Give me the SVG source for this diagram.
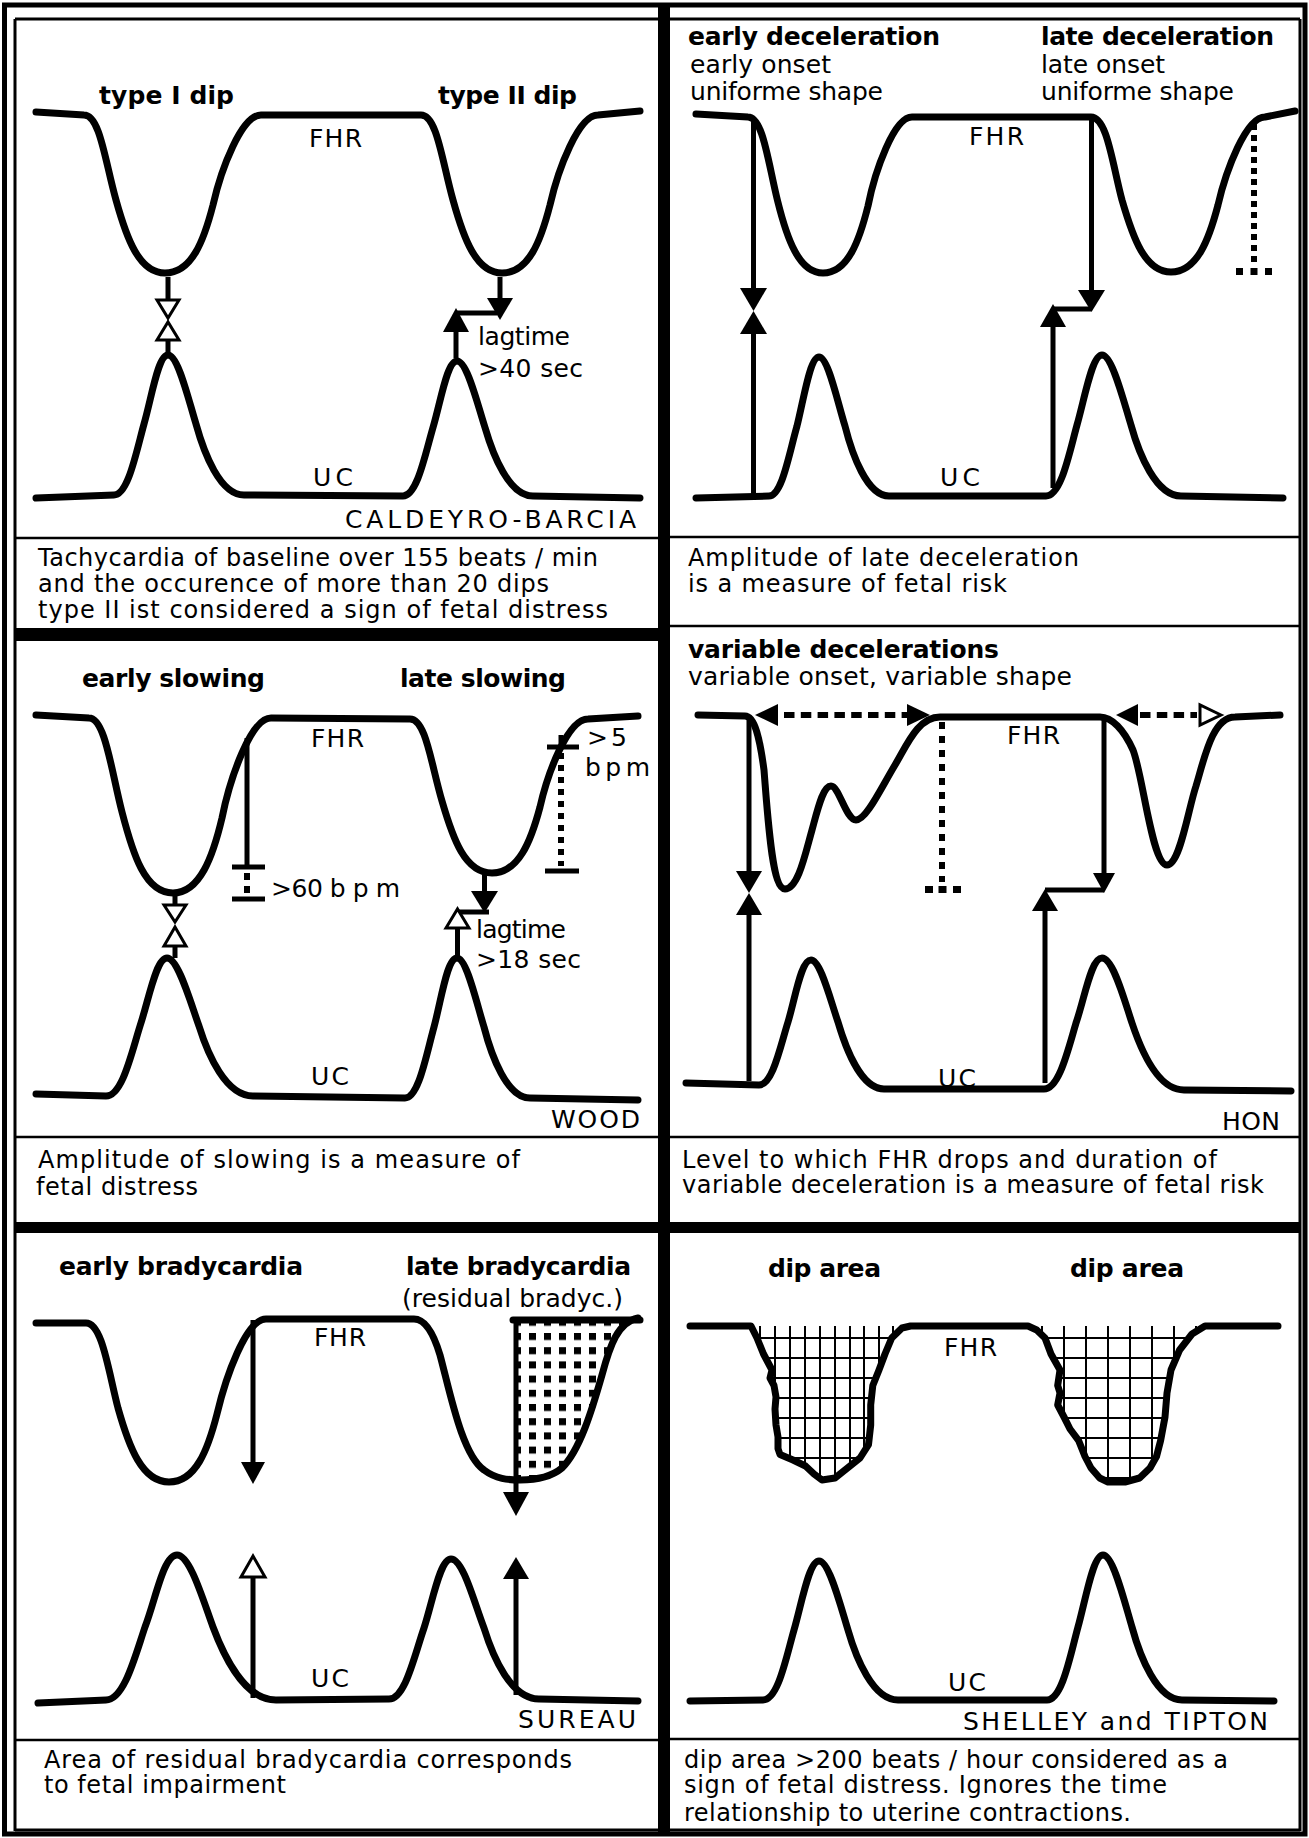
<svg xmlns="http://www.w3.org/2000/svg" width="1309" height="1838" viewBox="0 0 1309 1838">
<style>
text{font-family:"DejaVu Sans","Liberation Sans",sans-serif;fill:#000}
.b{font-weight:bold;font-size:25px}
.s{font-size:25px}
.c{font-size:24px}
.l{font-size:25px}
.a{font-size:25px}
.curve{fill:none;stroke:#000;stroke-width:7;stroke-linecap:round;stroke-linejoin:round}
.ln{fill:none;stroke:#000;stroke-width:5}
.thin{fill:none;stroke:#000;stroke-width:2.5}
.frame{fill:none;stroke:#000;stroke-width:3}
.dot{fill:none;stroke:#000;stroke-width:6}
.so{fill:#000}
.op{fill:#fff;stroke:#000;stroke-width:3}
.grid{stroke:#000;stroke-width:2}
</style>
<defs>
<pattern id="dots" x="529" y="1333" width="15" height="14.2" patternUnits="userSpaceOnUse"><rect width="7" height="7" fill="#000"/></pattern>
<clipPath id="clipL"><polygon points="751,1326 757,1338 763.5,1354 772,1370 770,1378 774,1385.5 776,1397 775,1409 776,1425 778,1437 778,1448.6 780,1454.5 793,1460 805.5,1466 814,1474 822,1480 835,1478 847.5,1468 860,1458 868.5,1444.6 870.7,1425 870.7,1405 872.8,1385.5 879,1370 885,1354 891.7,1338 902,1328 910.6,1326"/></clipPath>
<clipPath id="clipR"><polygon points="1028,1326 1036.7,1330 1045,1338 1051,1354 1060,1370 1057.7,1385.5 1060,1393 1057.7,1405 1064,1417 1070,1429 1078.7,1440.7 1085,1456.5 1091,1468 1099.7,1478 1108,1482 1125,1482 1139.6,1478 1150,1468 1156.5,1456.5 1160.6,1440.7 1165,1417 1167,1393 1171,1370 1179.6,1350 1192,1334 1205,1326"/></clipPath>
</defs>
<rect width="1309" height="1838" fill="#fff"/>

<g id="frame">
<rect x="4.5" y="5" width="1300.5" height="1829" fill="none" stroke="#000" stroke-width="5"/>
<line x1="15" y1="19" x2="15" y2="1831" class="frame"/>
<line x1="1300" y1="19" x2="1300" y2="1831" class="frame"/>
<line x1="15" y1="19" x2="1300" y2="19" class="frame"/>
<line x1="15" y1="1830" x2="1300" y2="1830" class="frame"/>
<rect x="658" y="4" width="12" height="1831" fill="#000"/>
<line x1="15" y1="538" x2="658" y2="538" class="thin"/>
<rect x="15" y="628" width="643" height="13" fill="#000"/>
<line x1="670" y1="537" x2="1300" y2="537" class="thin"/>
<line x1="670" y1="626" x2="1300" y2="626" class="thin"/>
<line x1="15" y1="1137" x2="658" y2="1137" class="thin"/>
<line x1="670" y1="1137" x2="1300" y2="1137" class="thin"/>
<rect x="15" y="1222" width="1285" height="11" fill="#000"/>
<line x1="15" y1="1740" x2="658" y2="1740" class="thin"/>
<line x1="670" y1="1739" x2="1300" y2="1739" class="thin"/>
</g>

<g id="panel-caldeyro">
<path class="curve" d="M36,112 L84,115 C100,115 105,161 116,200 C126.5,238 139,273 165,273 C192,273 204,240 213,205 C221,169.5 241.5,115 261,115 L421,115 C437,115 442,161 453,200 C463.5,238 476,273 502,273 C529,273 541,240 550,205 C558,169.5 578.5,115 598,115 L640,111"/>
<path class="curve" d="M36,498 L114,495 C128,495 136,453 144,424 C152,396 158,355 168,355 C178,355 188,398 196,424 C204,453 220,495 244,495 L403,496 C417,496 425,455 433,427.5 C441,400.5 447,361 457,361 C467,361 477,402.5 485,427.5 C493,455 509,496 533,496 L640,498"/>
<text class="b" x="99" y="104" textLength="135">type I dip</text>
<text class="b" x="438" y="104" textLength="139">type II dip</text>
<text class="l" x="309" y="147" textLength="53">FHR</text>
<text class="s" x="478" y="345" textLength="92">lagtime</text>
<text class="s" x="478" y="377" textLength="105">&gt;40 sec</text>
<text class="l" x="313" y="486" textLength="40">UC</text>
<text class="a" x="345" y="528" textLength="291">CALDEYRO-BARCIA</text>
<text class="c" x="38" y="566" textLength="560">Tachycardia of baseline over 155 beats / min</text>
<text class="c" x="38" y="592" textLength="511">and the occurence of more than 20 dips</text>
<text class="c" x="38" y="618" textLength="570">type II ist considered a sign of fetal distress</text>
</g>

<g id="panel-early-late-deceleration">
<path class="curve" d="M696,114 L748,117 C763,117 768,162 777.5,200.5 C787,239 799,273 823,273 C848,273 859.5,240 868,206 C875,171 894,117 912,117 L1091,117 C1107,117 1112,162 1122,200 C1133,238 1145,272 1171,272 C1197,272 1209,239.5 1218,205 C1226,170.5 1246,117 1265,117 L1295,111"/>
<path class="curve" d="M696,498 L769,496 C782,496 789,454 797,426 C804,398 810,357 819,357 C828,357 837,400 845,426 C852,454 867,496 889,496 L1046,496 C1061,496 1069,454 1077,425 C1085,397 1092,355 1102,355 C1112,355 1123,399 1131,425 C1139,454 1156,496 1181,496 L1283,498"/>
<text class="b" x="688" y="45" textLength="252">early deceleration</text>
<text class="s" x="690" y="73" textLength="141">early onset</text>
<text class="s" x="690" y="100" textLength="193">uniforme shape</text>
<text class="b" x="1041" y="45" textLength="233">late deceleration</text>
<text class="s" x="1041" y="73" textLength="124">late onset</text>
<text class="s" x="1041" y="100" textLength="193">uniforme shape</text>
<text class="l" x="969" y="145" textLength="55">FHR</text>
<text class="l" x="940" y="486" textLength="40">UC</text>
<text class="c" x="688" y="566" textLength="391">Amplitude of late deceleration</text>
<text class="c" x="688" y="592" textLength="319">is a measure of fetal risk</text>
</g>

<g id="panel-wood">
<path class="curve" d="M36,715 L89,718 C105,718 111,769 122,812 C133,854.5 145,893 173,893 C200,893 213,856 222,818 C230,778 251,718 271,718 L410,719 C426,719 431,764 442,801 C453,839 465,873 492,873 C518.6,873 531,841 540,807 C548,772 568,719 588,719 L638,716"/>
<path class="curve" d="M36,1094 L106,1096 C122,1096 131,1055 140,1026 C149,999 156,958 167,958 C178,958 190,1001 199,1026 C208,1055 226,1096 253,1096 L405,1098 C418.5,1098 426,1056 434,1027 C441.5,999 447,958 457,958 C466.5,958 476,1001 484,1027 C491.5,1056 507,1098 530,1098 L638,1100"/>
<text class="b" x="82" y="687" textLength="183">early slowing</text>
<text class="b" x="400" y="687" textLength="166">late slowing</text>
<text class="l" x="311" y="747" textLength="53">FHR</text>
<text class="s" x="271" y="897" textLength="129">&gt;60 b p m</text>
<text class="s" x="476" y="938" textLength="90">lagtime</text>
<text class="s" x="476" y="968" textLength="105">&gt;18 sec</text>
<text class="s" x="587" y="746" textLength="40">&gt;5</text>
<text class="s" x="585" y="776" textLength="65">b p m</text>
<text class="l" x="311" y="1085" textLength="38">UC</text>
<text class="a" x="551" y="1128" textLength="89">WOOD</text>
<text class="c" x="38" y="1168" textLength="482">Amplitude of slowing is a  measure of</text>
<text class="c" x="36" y="1195" textLength="162">fetal distress</text>
</g>

<g id="panel-hon">
<path class="curve" d="M698,715 L745,716 C755,716 760,740 764,770 C768,820 772,889 785,889 C798,889 805,855 812,830 C818,808 823,786 831,786 C839,786 846,820 856,820 C866,820 880,790 895,765 C907,745 918,717 940,717 L1100,717 C1112,717 1124,730 1133,750 C1143,775 1152,865 1167,865 C1180,865 1188,810 1196,786 C1204,760 1212,717 1235,717 L1280,715"/>
<path class="curve" d="M686,1083 L759,1085 C772.5,1085 780,1047.5 788,1022 C795.5,997 801,960 811,960 C820.5,960 830,999 838,1022 C845.5,1047.5 861,1089 884,1089 L1044,1089 C1059,1089 1068,1050 1076,1023 C1085,997 1091,958 1102,958 C1113,958 1124,999 1132,1023 C1141,1050 1158,1090 1184,1090 L1291,1091"/>
<text class="b" x="688" y="658" textLength="311">variable decelerations</text>
<text class="s" x="688" y="685" textLength="384">variable onset, variable shape</text>
<text class="l" x="1007" y="744" textLength="53">FHR</text>
<text class="l" x="938" y="1087" textLength="38">UC</text>
<text class="a" x="1222" y="1130" textLength="58">HON</text>
<text class="c" x="682" y="1168" textLength="535">Level to which FHR drops and duration of</text>
<text class="c" x="682" y="1193" textLength="582">variable deceleration is a measure of fetal risk</text>
</g>

<g id="panel-sureau">
<path d="M516,1320 L638,1320 C618,1322 610,1345 602,1375 C592,1410 580,1450 562,1468 C550,1478 535,1480 520,1480 L516,1480 Z" fill="url(#dots)"/>
<path class="curve" d="M36,1323 L86,1323 C102,1323 108,1369 118,1408 C129,1447 142,1482 169,1482 C196,1482 208,1449 217,1414 C225.5,1378 246,1319 266,1319 L414,1319 C426,1319 434,1335 440,1355 C450,1392 462,1455 484,1470 C496,1479 508,1480 520,1480 C535,1480 550,1478 562,1468 C580,1450 592,1410 602,1375 C610,1345 618,1322 638,1318"/>
<line x1="513" y1="1320" x2="640" y2="1320" class="curve"/>
<path class="curve" d="M38,1703 L106,1700 C124,1700 135,1656.5 145,1627 C156,1598 163.5,1555 177,1555 C190,1555 203,1600 213,1627 C224,1656.5 245,1700 276,1700 L389,1699 C405,1699 414,1657 424,1628 C433,1600 440,1559 451,1559 C463,1559 474,1602 484,1628 C493,1657 511,1699 539,1699 L638,1701"/>
<text class="b" x="59" y="1275" textLength="244">early bradycardia</text>
<text class="b" x="406" y="1275" textLength="225">late bradycardia</text>
<text class="s" x="402" y="1307" textLength="221">(residual bradyc.)</text>
<text class="l" x="314" y="1346" textLength="52">FHR</text>
<text class="l" x="311" y="1687" textLength="38">UC</text>
<text class="a" x="518" y="1728" textLength="118">SUREAU</text>
<text class="c" x="44" y="1768" textLength="528">Area of residual bradycardia corresponds</text>
<text class="c" x="44" y="1793" textLength="242">to fetal impairment</text>
</g>

<g id="panel-shelley-tipton">
<g clip-path="url(#clipL)">
<path class="grid" d="M760,1320V1490 M775,1320V1490 M790,1320V1490 M805,1320V1490 M820,1320V1490 M835,1320V1490 M850,1320V1490 M864,1320V1490 M879,1320V1490 M893,1320V1490 M745,1338H915 M745,1358H915 M745,1378H915 M745,1398H915 M745,1418H915 M745,1438H915 M745,1458H915 M745,1478H915"/>
</g>
<g clip-path="url(#clipR)">
<path class="grid" d="M1042,1320V1490 M1064,1320V1490 M1086,1320V1490 M1108,1320V1490 M1130,1320V1490 M1152,1320V1490 M1174,1320V1490 M1196,1320V1490 M1025,1338H1210 M1025,1358H1210 M1025,1378H1210 M1025,1398H1210 M1025,1418H1210 M1025,1438H1210 M1025,1458H1210 M1025,1478H1210"/>
</g>
<path class="curve" d="M690,1326 L751,1326 L757,1338 L763.5,1354 L772,1370 L770,1378 L774,1385.5 L776,1397 L775,1409 L776,1425 L778,1437 L778,1448.6 L780,1454.5 L793,1460 L805.5,1466 L814,1474 L822,1480 L835,1478 L847.5,1468 L860,1458 L868.5,1444.6 L870.7,1425 L870.7,1405 L872.8,1385.5 L879,1370 L885,1354 L891.7,1338 L902,1328 L910.6,1326 L1028,1326 L1036.7,1330 L1045,1338 L1051,1354 L1060,1370 L1057.7,1385.5 L1060,1393 L1057.7,1405 L1064,1417 L1070,1429 L1078.7,1440.7 L1085,1456.5 L1091,1468 L1099.7,1478 L1108,1482 L1125,1482 L1139.6,1478 L1150,1468 L1156.5,1456.5 L1160.6,1440.7 L1165,1417 L1167,1393 L1171,1370 L1179.6,1350 L1192,1334 L1205,1326 L1278,1326"/>
<path class="curve" d="M690,1701 L763,1700 C778,1700 786,1658 794,1630 C802,1602 809,1561 819,1561 C829,1561 840,1604 848,1630 C856,1658 873,1700 898,1700 L1047,1700 C1062,1700 1070,1656.5 1078,1627 C1086,1598 1093,1555 1103,1555 C1113,1555 1124,1600 1132,1627 C1140,1656.5 1157,1700 1182,1700 L1274,1701"/>
<text class="b" x="768" y="1277" textLength="113">dip area</text>
<text class="b" x="1070" y="1277" textLength="114">dip area</text>
<text class="l" x="944" y="1356" textLength="53">FHR</text>
<text class="l" x="948" y="1691" textLength="38">UC</text>
<text class="a" x="963" y="1730" textLength="305">SHELLEY and TIPTON</text>
<text class="c" x="684" y="1768" textLength="544">dip area &gt;200 beats / hour considered as a</text>
<text class="c" x="684" y="1793" textLength="483">sign of fetal distress. Ignores the time</text>
<text class="c" x="684" y="1821" textLength="447">relationship to uterine contractions.</text>
</g>

<g id="connectors">
<line x1="168" y1="277" x2="168" y2="300" class="ln"/>
<polygon class="op" points="157,300 179,300 168,318"/>
<polygon class="op" points="157,340 179,340 168,322"/>
<line x1="168" y1="340" x2="168" y2="355" class="ln"/>
<line x1="500" y1="277" x2="500" y2="299" class="ln" stroke-width="6"/>
<polygon class="so" points="487,298 513,298 500,320"/>
<line x1="456" y1="358" x2="456" y2="331" class="ln" stroke-width="6"/>
<polygon class="so" points="443,332 469,332 456,308"/>
<line x1="456" y1="313" x2="497" y2="313" class="ln" stroke-width="6"/>
<line x1="753.5" y1="120" x2="753.5" y2="290" class="ln"/>
<polygon class="so" points="740,288 767,288 753.5,311"/>
<polygon class="so" points="740,334 767,334 753.5,311"/>
<line x1="753.5" y1="334" x2="753.5" y2="494" class="ln"/>
<line x1="1091.5" y1="118" x2="1091.5" y2="291" class="ln"/>
<polygon class="so" points="1078,290 1105,290 1091.5,312"/>
<line x1="1053" y1="309" x2="1091" y2="309" class="ln"/>
<line x1="1053" y1="488" x2="1053" y2="326" class="ln"/>
<polygon class="so" points="1040,327 1066,327 1053,304"/>
<line x1="1254" y1="124" x2="1254" y2="264" class="dot" stroke-dasharray="6 5"/>
<rect x="1236" y="268" width="7" height="7"/>
<rect x="1250.5" y="268" width="7" height="7"/>
<rect x="1265" y="268" width="7" height="7"/>
<line x1="175" y1="896" x2="175" y2="905" class="ln"/>
<polygon class="op" points="164,905 186,905 175,922"/>
<polygon class="op" points="164,946 186,946 175,927"/>
<line x1="175" y1="946" x2="175" y2="958" class="ln"/>
<line x1="247" y1="738" x2="247" y2="867" class="ln"/>
<line x1="232" y1="867" x2="265" y2="867" class="ln"/>
<rect x="244" y="873" width="6" height="7"/>
<rect x="244" y="886" width="6" height="7"/>
<line x1="232" y1="899" x2="265" y2="899" class="ln"/>
<line x1="484.5" y1="875" x2="484.5" y2="892" class="ln" stroke-width="6"/>
<polygon class="so" points="471,891 498,891 484.5,913"/>
<line x1="458" y1="912" x2="489" y2="912" class="ln"/>
<polygon class="op" points="446,928 469,928 457.5,909"/>
<line x1="457.5" y1="958" x2="457.5" y2="929" class="ln"/>
<line x1="561" y1="735" x2="561" y2="747" class="ln"/>
<line x1="547" y1="747" x2="579" y2="747" class="ln"/>
<line x1="561" y1="753" x2="561" y2="866" class="dot" stroke-dasharray="6 6"/>
<line x1="545" y1="871" x2="579" y2="871" class="ln"/>
<line x1="749" y1="717" x2="749" y2="872" class="ln"/>
<polygon class="so" points="736,871 762,871 749,893"/>
<polygon class="so" points="736,915 762,915 749,893"/>
<line x1="749" y1="915" x2="749" y2="1081" class="ln"/>
<line x1="1104" y1="717" x2="1104" y2="874" class="ln"/>
<polygon class="so" points="1093,873 1115,873 1104,893"/>
<line x1="1045" y1="890" x2="1104" y2="890" class="ln"/>
<line x1="1045" y1="1083" x2="1045" y2="910" class="ln"/>
<polygon class="so" points="1032,911 1058,911 1045,889"/>
<line x1="784" y1="715" x2="908" y2="715" class="dot" stroke-dasharray="10.5 6.3"/>
<polygon class="so" points="755,715 778,704 778,726"/>
<polygon class="so" points="930,715 907,704 907,726"/>
<line x1="942" y1="722" x2="942" y2="882" class="dot" stroke-dasharray="7 7"/>
<rect x="925" y="886" width="8" height="7"/>
<rect x="938.5" y="886" width="8" height="7"/>
<rect x="953" y="886" width="8" height="7"/>
<line x1="1140" y1="715" x2="1197" y2="715" class="dot" stroke-dasharray="10.5 6.3"/>
<polygon class="so" points="1116,715 1138,704 1138,726"/>
<polygon class="op" points="1221,715 1200,705 1200,725"/>
<line x1="253" y1="1320" x2="253" y2="1463" class="ln"/>
<polygon class="so" points="241,1462 265,1462 253,1484"/>
<line x1="253" y1="1698" x2="253" y2="1578" class="ln"/>
<polygon class="op" points="241,1577 265,1577 253,1556"/>
<line x1="516" y1="1320" x2="516" y2="1493" class="ln" stroke-width="6"/>
<polygon class="so" points="503,1492 529,1492 516,1516"/>
<line x1="516" y1="1695" x2="516" y2="1578" class="ln" stroke-width="6"/>
<polygon class="so" points="503,1579 529,1579 516,1557"/>
</g>
</svg>
